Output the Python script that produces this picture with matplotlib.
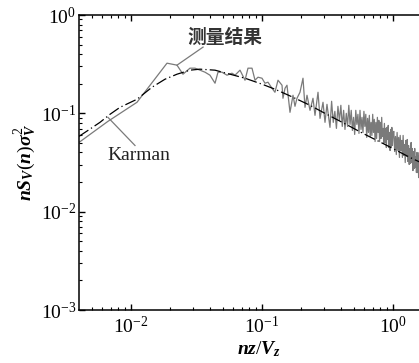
import matplotlib
matplotlib.use("Agg")
import matplotlib.pyplot as plt

plt.rcParams['font.family'] = ['Liberation Serif', 'DejaVu Serif']
plt.rcParams['mathtext.fontset'] = 'custom'
plt.rcParams['mathtext.rm'] = 'Liberation Serif'
plt.rcParams['mathtext.it'] = 'Liberation Serif:italic:bold'
plt.rcParams['mathtext.bf'] = 'Liberation Serif:bold'

meas_x_low = [0.00401, 0.00667, 0.01111, 0.01883, 0.02245, 0.02494, 0.0282, 0.03082,
              0.03672, 0.04009, 0.0438, 0.04615, 0.04953, 0.05405, 0.05902, 0.06223,
              0.06795, 0.0742, 0.07818, 0.0839, 0.08846, 0.0932, 0.1, 0.1054, 0.1111,
              0.1192, 0.1256, 0.1325, 0.1422, 0.1446, 0.1499, 0.1552, 0.1636, 0.1725,
              0.1786, 0.185, 0.195, 0.2056, 0.213, 0.2206, 0.2326, 0.2451, 0.2539,
              0.2677, 0.2773, 0.2923, 0.3027, 0.3134, 0.3304]
meas_y_low = [0.0506, 0.0829, 0.1295, 0.3237, 0.309, 0.25, 0.2879, 0.2879,
              0.2621, 0.2442, 0.2024, 0.2621, 0.2621, 0.2442, 0.2561, 0.2442,
              0.2747, 0.2172, 0.2879, 0.2879, 0.2172, 0.233, 0.2276, 0.2024, 0.2072,
              0.1799, 0.1638, 0.2172, 0.1931, 0.1423, 0.1799, 0.1931, 0.1024, 0.1527,
              0.1179, 0.1423, 0.1638, 0.2276, 0.1151, 0.1527, 0.1073, 0.1423, 0.0954,
              0.1638, 0.0889, 0.1295, 0.0810, 0.1235, 0.0720]

# measured spectrum, dense high frequency part
meas_x_high = [0.34, 0.35, 0.36, 0.37, 0.38, 0.39, 0.40, 0.41, 0.42, 0.43, 0.44,
               0.45, 0.46, 0.47, 0.48, 0.49, 0.50, 0.51, 0.52, 0.53, 0.54, 0.55,
               0.56, 0.57, 0.58, 0.59, 0.60, 0.61, 0.62, 0.63, 0.64, 0.65, 0.66,
               0.67, 0.68, 0.69, 0.70, 0.71, 0.72, 0.73, 0.74, 0.75, 0.76, 0.77,
               0.78, 0.79, 0.80, 0.81, 0.82, 0.83, 0.84, 0.85, 0.86, 0.87, 0.88,
               0.89, 0.90, 0.91, 0.92, 0.93, 0.94, 0.95, 0.96, 0.97, 0.98, 0.99,
               1.00, 1.015, 1.03, 1.045, 1.06, 1.075, 1.09, 1.105, 1.12, 1.135,
               1.15, 1.165, 1.18, 1.195, 1.21, 1.225, 1.24, 1.255, 1.27, 1.285,
               1.30, 1.315, 1.33, 1.345, 1.36, 1.375, 1.39, 1.405, 1.42, 1.435,
               1.45, 1.465, 1.48, 1.495, 1.51, 1.525, 1.54, 1.555, 1.57, 1.585, 1.60]
meas_y_high = [0.1326, 0.0809, 0.1048, 0.0703, 0.1179, 0.0848, 0.1207, 0.0736,
               0.1073, 0.0686, 0.1000, 0.0736, 0.1207, 0.0772, 0.1073, 0.0670,
               0.0910, 0.0610, 0.1073, 0.0772, 0.0977, 0.0625, 0.1073, 0.0686,
               0.0910, 0.0639, 0.1048, 0.0736, 0.0977, 0.0569, 0.0889, 0.0639,
               0.0954, 0.0582, 0.0809, 0.0596, 0.0977, 0.0639, 0.0868, 0.0517,
               0.0809, 0.0555, 0.0910, 0.0639, 0.0848, 0.0517, 0.0809, 0.0555,
               0.0910, 0.0582, 0.0703, 0.0494, 0.0790, 0.0505, 0.0703, 0.0449,
               0.0719, 0.0542, 0.0754, 0.0449, 0.0639, 0.0419, 0.0686, 0.0460,
               0.0719, 0.0471, 0.0625, 0.0655, 0.0409, 0.0582, 0.0381, 0.0639,
               0.0419, 0.0569, 0.0356, 0.0596, 0.0419, 0.0530, 0.0356, 0.0596,
               0.0373, 0.0482, 0.0316, 0.0530, 0.0364, 0.0542, 0.0324, 0.0471,
               0.0302, 0.0439, 0.0309, 0.0505, 0.0316, 0.0439, 0.0262, 0.0409,
               0.0275, 0.0439, 0.0281, 0.0364, 0.0250, 0.0400, 0.0250, 0.0373,
               0.0222, 0.0400, 0.0250]

# Karman spectrum
karman_x = [0.00401, 0.0047, 0.0058, 0.00691, 0.00824, 0.01111, 0.01446, 0.01818,
            0.02245, 0.0282, 0.0336, 0.0438, 0.057, 0.0742, 0.1, 0.1256, 0.1725,
            0.2326, 0.2923, 0.47, 0.59, 0.9, 1.348, 2.285]
karman_y = [0.0583, 0.0671, 0.081, 0.0977, 0.1151, 0.139, 0.1842, 0.2223,
            0.25, 0.2747, 0.2813, 0.2747, 0.25, 0.2276, 0.198, 0.176, 0.1457,
            0.1207, 0.1024, 0.0736, 0.0625, 0.0471, 0.0356, 0.0256]

meas_x = meas_x_low + meas_x_high
meas_y = meas_y_low + meas_y_high

fig = plt.figure(figsize=(4.19, 3.63), dpi=100)
ax = fig.add_axes([79 / 419, 1 - 310 / 363, (440 - 79) / 419, (310 - 15) / 363])

gray = '#7a7a7a'
ax.plot(meas_x, meas_y, color=gray, lw=0.9)
ax.plot(karman_x, karman_y, color='black', lw=0.9, dashes=(9, 2.5, 1, 2.5))

ax.set_xscale('log')
ax.set_yscale('log')
ax.set_xlim(0.00401, 2.285)
ax.set_ylim(1e-3, 1)

# labels with leader lines
ax.plot([0.02245, 0.0355], [0.309, 0.4716], color=gray, lw=0.9)
ax.text(0.02676, 0.596, '测量结果', family=['Noto Sans CJK SC'], fontsize=13.5,
        fontweight='bold', va='center', ha='left', color='#333333')
ax.plot([0.00667, 0.01073], [0.091, 0.0471], color=gray, lw=0.9)
ax.text(0.00656, 0.0373, 'Karman', fontsize=14, va='center', ha='left', color='#222222')

ax.set_xlabel(r'$nz/V_z$', fontsize=14, labelpad=2)
ax.set_ylabel(r'$nS_V(n)\sigma_V^2$', fontsize=14, labelpad=2)

ax.tick_params(which='both', direction='in', top=True, right=False, labelsize=14)
ax.tick_params(which='major', length=4, width=1)
ax.tick_params(which='minor', length=2.5, width=0.8)
ax.tick_params(axis='y', pad=2)
ax.tick_params(axis='x', pad=4)
for s in ax.spines.values():
    s.set_linewidth(1.1)

fig.savefig('out.png', dpi=100)
